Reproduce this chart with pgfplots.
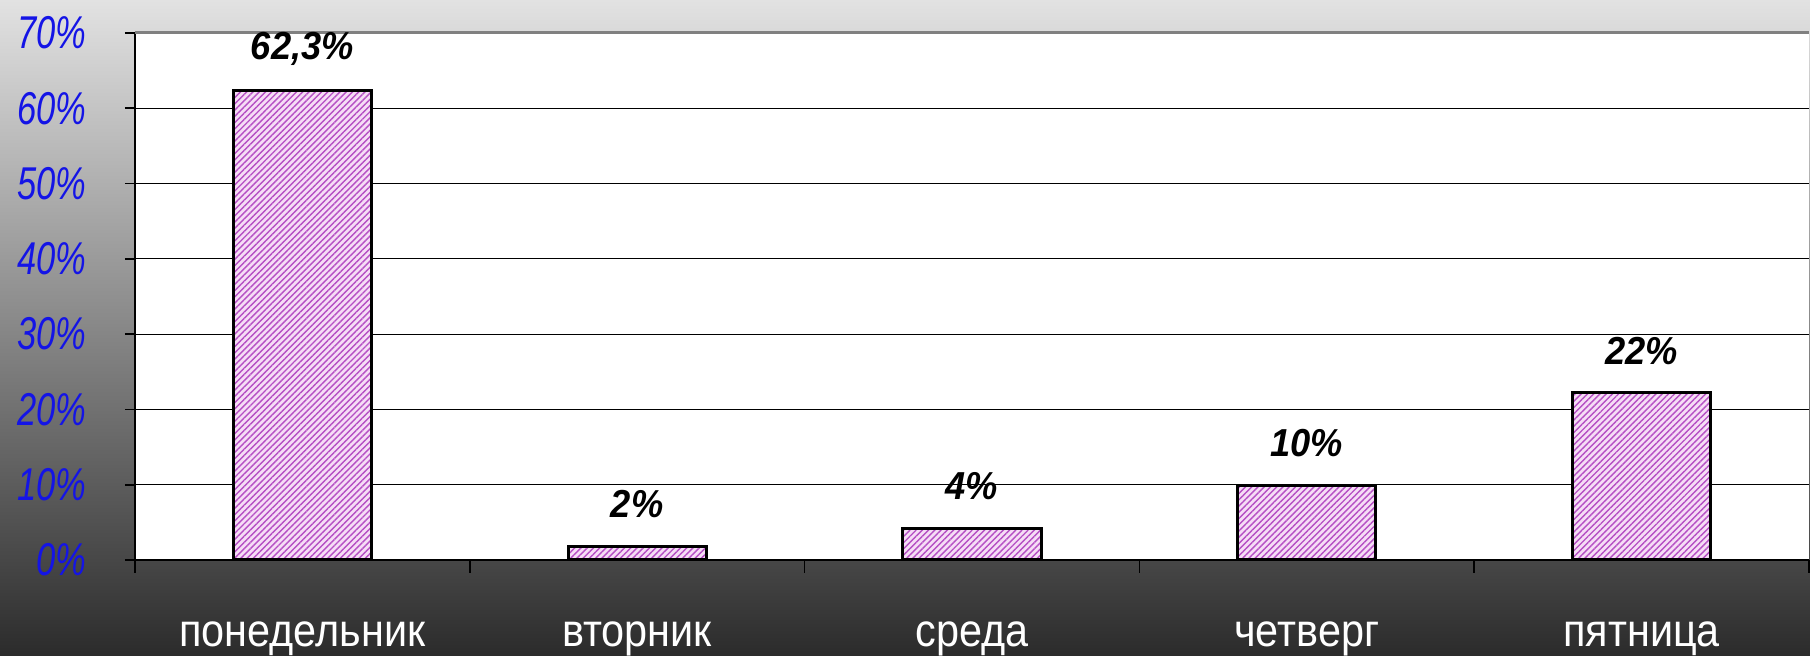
\documentclass[border=0pt]{standalone}
\usepackage{pgfplots}
\pgfplotsset{compat=1.18}
\usetikzlibrary{patterns.meta}
\usepackage{fontspec}
\setmainfont{Liberation Sans}
\newfontfamily\narrowfont[FakeStretch=0.75]{Liberation Sans}
\newfontfamily\catfont[FakeStretch=0.9]{Liberation Sans}
\newfontfamily\labelfont[FakeStretch=0.93]{Liberation Sans}
\definecolor{bgtop}{HTML}{E2E2E2}
\definecolor{bgmid}{HTML}{A0A0A0}
\definecolor{bglow}{HTML}{474747}
\definecolor{bgbot}{HTML}{2B2B2B}
\definecolor{barbg}{HTML}{F6DDF6}
\definecolor{hatch}{HTML}{B54FC4}
\definecolor{ticklbl}{HTML}{1414E6}
\begin{document}
\begin{tikzpicture}
\useasboundingbox (-67.5pt,-48pt) rectangle (837.5pt,280pt);
\shade[top color=bgtop, middle color=bgmid, bottom color=bglow] (-67.5pt,0pt) rectangle (837.5pt,280pt);
\shade[top color=bglow, bottom color=bgbot] (-67.5pt,-48pt) rectangle (837.5pt,0pt);
\begin{axis}[
  at={(0pt,0pt)}, anchor=south west,
  scale only axis, width=837pt, height=263.5pt,
  xmin=-0.5, xmax=4.5, ymin=0, ymax=70,
  axis x line*=bottom, axis y line*=left,
  axis line style={-, black, line width=1pt},
  axis background/.style={fill=white},
  ybar, bar width=0.413,
  ytick={0,10,...,70},
  yticklabels={0\%,10\%,20\%,30\%,40\%,50\%,60\%,70\%},
  ymajorgrids, grid style={black, line width=0.6pt},
  xtick={0,1,2,3,4},
  xticklabels={понедельник,вторник,среда,четверг,пятница},
  minor xtick={-0.5,0.5,1.5,2.5,3.5,4.5},
  tick align=outside,
  major tick length=5pt, minor tick length=6.5pt,
  tick style={black, line width=0.8pt},
  major x tick style={draw=none},
  yticklabel style={font=\narrowfont\itshape\fontsize{23}{23}\selectfont,
    text=ticklbl, inner sep=0pt, xshift=-19pt},
  xticklabel style={font=\catfont\fontsize{23}{23}\selectfont, text=white,
    anchor=base, yshift=-38.5pt},
  nodes near coords, point meta=explicit symbolic,
  nodes near coords style={font=\labelfont\bfseries\itshape\fontsize{19.5}{19.5}\selectfont,
    text=black, anchor=center, yshift=21pt},
  clip=false,
]
\addplot[draw=black, line width=1.5pt, preaction={fill=barbg},
  pattern={Lines[angle=45,distance=2.2pt,line width=0.7pt]}, pattern color=hatch]
  coordinates {(0,62.3) [62,3\%] (1,1.8) [2\%] (2,4.2) [4\%] (3,9.9) [10\%] (4,22.2) [22\%]};
\draw[color=gray, line width=1.5pt] (axis cs:-0.5,70) -- (axis cs:4.5,70);
\end{axis}
\end{tikzpicture}
\end{document}
